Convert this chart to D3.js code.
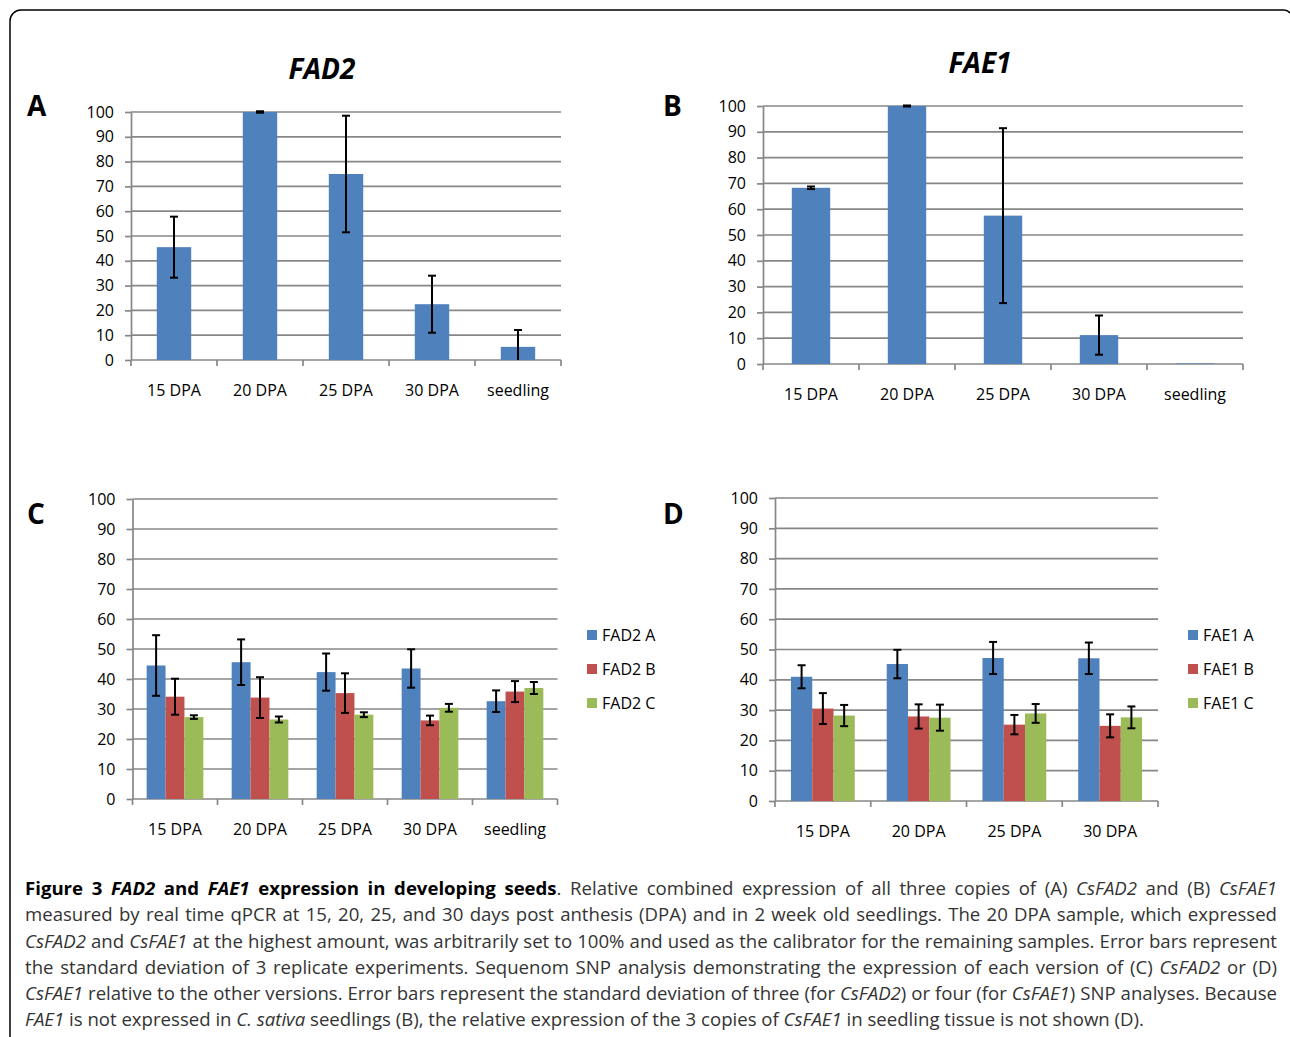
<!DOCTYPE html>
<html>
<head>
<meta charset="utf-8">
<script src="https://cdn.jsdelivr.net/npm/d3@7"></script>
<style>
  body { margin: 0; background: #fff; }
  #fig { position: absolute; left: 0; top: 0; }
  #caption { position: absolute; left: 25px; top: 875px; width: 1252px; font-family: "Open Sans", sans-serif; font-size: 18.6px; color: #333; }
  .cap_line { height: 26.3px; line-height: 26.3px; white-space: nowrap; text-align: left; text-align-last: left; }
  .b { font-weight: bold; color: #000; }
</style>
</head>
<body>
<svg id="fig" width="1290" height="1037"></svg>
<div id="caption"></div>
<script>
// ---- data ----
var cats_ab = ["15 DPA", "20 DPA", "25 DPA", "30 DPA", "seedling"]
var cats_d = ["15 DPA", "20 DPA", "25 DPA", "30 DPA"]
var y_ticks = [0, 10, 20, 30, 40, 50, 60, 70, 80, 90, 100]

// A: combined FAD2 expression (mean, sd)
var fad2_mean = [45.5, 100, 75, 22.5, 5.3]
var fad2_sd = [12.3, 0.3, 23.5, 11.5, 6.8]
// B: combined FAE1 expression
var fae1_mean = [68.3, 100, 57.5, 11.2, 0.2]
var fae1_sd = [0.5, 0.2, 33.9, 7.6, 0]

// C: FAD2 copies
var fad2_series = ["FAD2 A", "FAD2 B", "FAD2 C"]
var fad2_copy_mean = [
    [44.5, 45.6, 42.3, 43.5, 32.6],
    [34.1, 33.8, 35.3, 26.2, 35.8],
    [27.3, 26.5, 28.1, 30.4, 37.0]
]
var fad2_copy_sd = [
    [10.1, 7.6, 6.2, 6.4, 3.6],
    [6.0, 6.8, 6.6, 1.6, 3.5],
    [0.6, 1.0, 0.8, 1.3, 2.0]
]
// D: FAE1 copies
var fae1_series = ["FAE1 A", "FAE1 B", "FAE1 C"]
var fae1_copy_mean = [
    [41.0, 45.2, 47.2, 47.1],
    [30.5, 27.9, 25.2, 24.8],
    [28.2, 27.5, 28.9, 27.6]
]
var fae1_copy_sd = [
    [3.8, 4.7, 5.3, 5.2],
    [5.1, 4.0, 3.2, 3.8],
    [3.5, 4.3, 3.1, 3.6]
]

var COLORS = ["#4F81BD", "#C0504D", "#9BBB59"]
var GRID = "#878787"
var FONT = "'Open Sans', sans-serif"

var svg = d3.select("#fig")

// frame round the figure
svg.append("path")
    .attr("d", "M10,1037 V21 A11,11 0 0 1 21,10 H1284 Q1288,10 1290,13")
    .attr("fill", "none").attr("stroke", "#000").attr("stroke-width", 1.5)

function drawPanel(cfg) {
    var g = svg.append("g")
    var x = d3.scaleBand().domain(cfg.cats).range([cfg.x0, cfg.x1]).padding(0)
    var y = d3.scaleLinear().domain([0, 100]).range([cfg.y0, cfg.y100])
    var bw = x.bandwidth()

    // gridlines
    g.selectAll(".grid").data(y_ticks).enter().append("line")
        .attr("x1", cfg.x0).attr("x2", cfg.x1)
        .attr("y1", d => y(d)).attr("y2", d => y(d))
        .attr("stroke", GRID).attr("stroke-width", 1.7)

    // y axis
    var ya = g.append("g").attr("transform", "translate(" + cfg.x0 + ",0)")
        .call(d3.axisLeft(y).tickValues(y_ticks).tickSize(6).tickPadding(11).tickSizeOuter(0))
    ya.select(".domain").attr("stroke", GRID).attr("stroke-width", 1.7)
    ya.selectAll(".tick line").attr("stroke", GRID).attr("stroke-width", 1.7)
    ya.selectAll("text").attr("font-family", FONT).attr("font-size", 16).attr("fill", "#000")

    // x axis: labels from the band scale, ticks at band edges like Excel
    var xa = g.append("g").attr("transform", "translate(0," + cfg.y0 + ")")
        .call(d3.axisBottom(x).tickSize(0).tickPadding(25))
    xa.select(".domain").remove()
    xa.selectAll("text").attr("font-family", FONT).attr("font-size", 16).attr("fill", "#000")
    var edges = cfg.cats.map(c => x(c)).concat([cfg.x1])
    g.selectAll(".xtick").data(edges).enter().append("line")
        .attr("x1", d => d).attr("x2", d => d)
        .attr("y1", cfg.y0).attr("y2", cfg.y0 + 6)
        .attr("stroke", GRID).attr("stroke-width", 1.7)

    // bars
    var nS = cfg.means.length
    var w = bw / (nS + 1.5)
    var off = (bw - nS * w) / 2
    var rows = []
    cfg.means.forEach((serie, si) => {
        serie.forEach((v, ci) => {
            rows.push({ s: si, c: cfg.cats[ci], v: v, sd: cfg.sds[si][ci] })
        })
    })
    g.selectAll(".bar").data(rows).enter().append("rect")
        .attr("x", d => x(d.c) + off + d.s * w)
        .attr("width", w)
        .attr("y", d => y(d.v))
        .attr("height", d => y(0) - y(d.v))
        .attr("fill", d => COLORS[d.s])

    // error bars (clipped at zero, no cap there)
    var eb = g.selectAll(".err").data(rows.filter(d => d.sd > 0)).enter().append("g")
        .attr("stroke", "#000").attr("stroke-width", 2)
    var cx = d => x(d.c) + off + d.s * w + w / 2
    eb.append("line")
        .attr("x1", cx).attr("x2", cx)
        .attr("y1", d => y(d.v + d.sd)).attr("y2", d => y(Math.max(0, d.v - d.sd)))
    eb.append("line")
        .attr("x1", d => cx(d) - 4).attr("x2", d => cx(d) + 4)
        .attr("y1", d => y(d.v + d.sd)).attr("y2", d => y(d.v + d.sd))
    eb.filter(d => d.v - d.sd > 0).append("line")
        .attr("x1", d => cx(d) - 4).attr("x2", d => cx(d) + 4)
        .attr("y1", d => y(d.v - d.sd)).attr("y2", d => y(d.v - d.sd))

    // panel letter
    g.append("text").attr("x", cfg.lx).attr("y", cfg.ly).attr("dy", "0.35em")
        .attr("font-family", FONT).attr("font-weight", "bold").attr("font-size", 28)
        .text(cfg.letter)

    if (cfg.title) {
        g.append("text").attr("x", cfg.tx).attr("y", cfg.ty).attr("dy", "0.35em")
            .attr("text-anchor", "middle")
            .attr("font-family", FONT).attr("font-weight", "bold").attr("font-style", "italic")
            .attr("font-size", 28).text(cfg.title)
    }

    if (cfg.legend) {
        var lg = g.selectAll(".leg").data(cfg.legend).enter().append("g")
            .attr("transform", (d, i) => "translate(" + cfg.legx + "," + (cfg.legy + i * 34) + ")")
        lg.append("rect").attr("x", 0).attr("y", -5).attr("width", 10).attr("height", 10)
            .attr("fill", (d, i) => COLORS[i])
        lg.append("text").attr("x", 15).attr("dy", "0.35em")
            .attr("font-family", FONT).attr("font-size", 16).text(d => d)
    }
}

drawPanel({ cats: cats_ab, means: [fad2_mean], sds: [fad2_sd],
    x0: 131, x1: 561, y0: 360, y100: 112,
    letter: "A", lx: 27, ly: 106, title: "FAD2", tx: 322, ty: 69 })
drawPanel({ cats: cats_ab, means: [fae1_mean], sds: [fae1_sd],
    x0: 763, x1: 1243, y0: 364, y100: 106,
    letter: "B", lx: 663, ly: 106, title: "FAE1", tx: 980, ty: 63 })
drawPanel({ cats: cats_ab, means: fad2_copy_mean, sds: fad2_copy_sd,
    x0: 132.5, x1: 557.5, y0: 799, y100: 499,
    letter: "C", lx: 27, ly: 514, legend: fad2_series, legx: 587, legy: 635 })
drawPanel({ cats: cats_d, means: fae1_copy_mean, sds: fae1_copy_sd,
    x0: 775, x1: 1158, y0: 801, y100: 498,
    letter: "D", lx: 663, ly: 514, legend: fae1_series, legx: 1188, legy: 635 })

// ---- caption ----
var caption_lines = [
    [["Figure 3 ", "b"], ["FAD2", "bi"], [" and ", "b"], ["FAE1", "bi"], [" expression in developing seeds", "b"],
     [". Relative combined expression of all three copies of (A) ", ""], ["CsFAD2", "i"], [" and (B) ", ""], ["CsFAE1", "i"]],
    [["measured by real time qPCR at 15, 20, 25, and 30 days post anthesis (DPA) and in 2 week old seedlings. The 20 DPA sample, which expressed", ""]],
    [["CsFAD2", "i"], [" and ", ""], ["CsFAE1", "i"], [" at the highest amount, was arbitrarily set to 100% and used as the calibrator for the remaining samples. Error bars represent", ""]],
    [["the standard deviation of 3 replicate experiments. Sequenom SNP analysis demonstrating the expression of each version of (C) ", ""], ["CsFAD2", "i"], [" or (D)", ""]],
    [["CsFAE1", "i"], [" relative to the other versions. Error bars represent the standard deviation of three (for ", ""], ["CsFAD2", "i"],
     [") or four (for ", ""], ["CsFAE1", "i"], [") SNP analyses. Because", ""]],
    [["FAE1", "i"], [" is not expressed in ", ""], ["C. sativa", "i"], [" seedlings (B), the relative expression of the 3 copies of ", ""], ["CsFAE1", "i"],
     [" in seedling tissue is not shown (D).", ""]]
]
var CAP_W = 1252
var cap = d3.select("#caption")
caption_lines.forEach((line, li) => {
    var div = cap.append("div").attr("class", "cap_line")
    line.forEach(seg => {
        div.append("span")
            .attr("class", seg[1].indexOf("b") >= 0 ? "b" : null)
            .style("font-style", seg[1].indexOf("i") >= 0 ? "italic" : "normal")
            .text(seg[0])
    })
    // natural width, then squeeze letters if it would overflow, then justify
    var nat = d3.sum(div.selectAll("span").nodes(), n => n.getBoundingClientRect().width)
    if (nat > CAP_W) {
        var nch = line.reduce((a, s) => a + s[0].length, 0)
        div.style("letter-spacing", ((CAP_W - nat) / nch - 0.02) + "px")
    }
    if (li < caption_lines.length - 1) {
        div.style("text-align", "justify").style("text-align-last", "justify")
    }
})
</script>
</body>
</html>
